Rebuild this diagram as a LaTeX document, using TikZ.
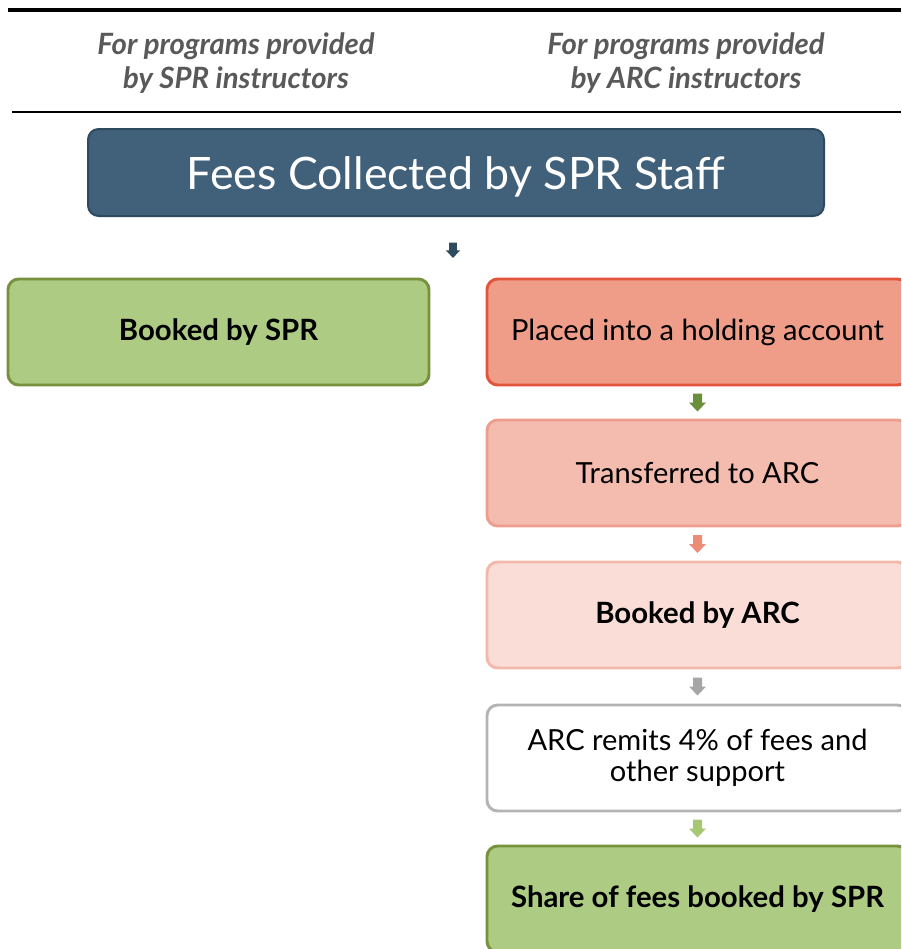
\documentclass[tikz,border=0pt]{standalone}
\usepackage{fontspec}
\setmainfont{Lato}
\usetikzlibrary{calc}
\definecolor{titlefill}{HTML}{41607A}
\definecolor{titleline}{HTML}{2E4A5E}
\definecolor{grfill}{HTML}{AECB84}
\definecolor{grline}{HTML}{76923C}
\definecolor{saA}{HTML}{EF9C89}
\definecolor{saAl}{HTML}{E2553A}
\definecolor{saB}{HTML}{F4BBAF}
\definecolor{saBl}{HTML}{EE9E8F}
\definecolor{saC}{HTML}{F9DDD6}
\definecolor{saCl}{HTML}{F3B8AA}
\definecolor{wtl}{HTML}{B4B4B4}
\definecolor{hdr}{HTML}{595959}
\definecolor{arA}{HTML}{2F4B5E}
\definecolor{arB}{HTML}{6A8E3A}
\definecolor{arC}{HTML}{EE8C7A}
\definecolor{arD}{HTML}{A6A6A6}
\definecolor{arE}{HTML}{A6C873}
\tikzset{
  flowbox/.style={rounded corners=8, line width=2.2, minimum width=421*0.75pt, minimum height=106*0.75pt, inner sep=0pt, align=center, font=\fontsize{21.8pt}{23.5pt}\selectfont},
  boldbox/.style={flowbox, font=\fontsize{22pt}{24pt}\selectfont\bfseries},
  hdrtext/.style={text=hdr, align=center, font=\fontsize{22pt}{26pt}\selectfont\bfseries\itshape},
}
% block arrow: #1 centre, #2 colour, #3 scale
\newcommand{\blockarrow}[3]{%
  \fill[#2, shift={(#1)}, scale=#3] (-4.5,-9) -- (4.5,-9) -- (4.5,0) -- (8.5,0) -- (0,9) -- (-8.5,0) -- (-4.5,0) -- cycle;}
\begin{document}
\begin{tikzpicture}[x=0.75pt, y=-0.75pt]
\useasboundingbox (0,0) rectangle (901,949);
\clip (0,0) rectangle (901,949);
\draw[line width=3.5] (8,10) -- (901,10);
\draw[line width=1.2] (12,112) -- (901,112);
\node[hdrtext] (h1) at (236,63) {For programs provided\\by SPR instructors};
\node[hdrtext] (h2) at (686,63) {For programs provided\\by ARC instructors};
\node[draw=titleline, fill=titlefill, rounded corners=8, line width=1.5, minimum width=736*0.75pt, minimum height=87*0.75pt] (title) at (456,172.5) {};
\node[text=white, font=\fontsize{33.5pt}{36pt}\selectfont] (titletext) at ($(title.center)+(0,4)$) {Fees Collected by SPR Staff};
\node[boldbox, draw=grline, fill=grfill] (spr) at (218.5,332) {Booked by SPR};
\node[flowbox, draw=saAl, fill=saA] (hold) at (697.5,332) {Placed into a holding account};
\node[flowbox, draw=saBl, fill=saB] (trans) at (697.5,473) {Transferred to ARC};
\node[boldbox, draw=saCl, fill=saC] (arc) at (697.5,615) {Booked by ARC};
\node[flowbox, draw=wtl, fill=white] (remit) at (697.5,758) {ARC remits 4\% of fees and\\other support};
\node[boldbox, draw=grline, fill=grfill] (share) at (697.5,899) {Share of fees booked by SPR};
\coordinate (m0) at ($(title.south)!0.5!(title.south |- spr.north)+(-3,3)$);
\coordinate (m1) at ($(hold.south)!0.5!(trans.north)$);
\coordinate (m2) at ($(trans.south)!0.5!(arc.north)$);
\coordinate (m3) at ($(arc.south)!0.5!(remit.north)$);
\coordinate (m4) at ($(remit.south)!0.5!(share.north)$);
\blockarrow{m0}{arA}{0.85}
\blockarrow{m1}{arB}{1}
\blockarrow{m2}{arC}{1}
\blockarrow{m3}{arD}{1}
\blockarrow{m4}{arE}{1}
\end{tikzpicture}
\end{document}
